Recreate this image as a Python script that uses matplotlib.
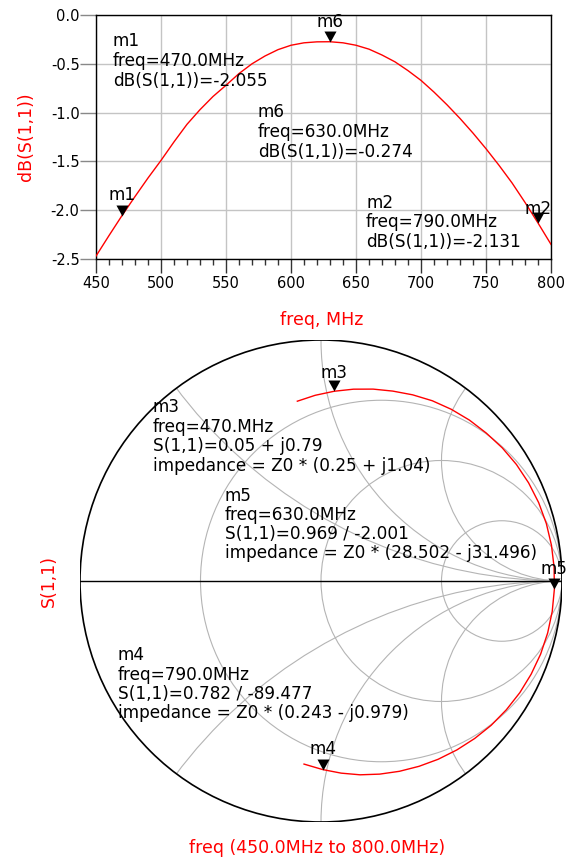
import numpy as np
import matplotlib
matplotlib.use("Agg")
import matplotlib.pyplot as plt
from matplotlib.path import Path
from matplotlib.patches import Circle

plt.rcParams["font.family"] = ["DejaVu Sans"]

# S(1,1) sweep (dB and phase in degrees)
freq_mhz = [450, 460, 470, 480, 490, 500, 510, 520, 530, 540, 550, 560,
            570, 580, 590, 600, 610, 620, 630, 640, 650, 660, 670, 680,
            690, 700, 710, 720, 730, 740, 750, 760, 770, 780, 790, 800]
s11_db = [-2.47, -2.26, -2.055, -1.86, -1.67, -1.49, -1.30, -1.12, -0.97,
          -0.835, -0.72, -0.60, -0.50, -0.42, -0.355, -0.31, -0.285, -0.275,
          -0.274, -0.285, -0.31, -0.35, -0.41, -0.48, -0.57, -0.67, -0.79,
          -0.92, -1.06, -1.21, -1.37, -1.54, -1.72, -1.92, -2.131, -2.35]
s11_phase_deg = [97.5, 91.8, 86.0, 80.4, 74.8, 69.3, 63.8, 58.3, 52.8, 47.3,
                 41.8, 36.3, 30.8, 25.3, 19.8, 14.3, 8.8, 3.4, -2.0, -7.5,
                 -12.9, -18.4, -23.9, -29.3, -34.8, -40.3, -45.7, -51.2,
                 -56.7, -62.1, -67.6, -73.1, -78.6, -84.0, -89.5, -95.3]

x_ticks = [450, 500, 550, 600, 650, 700, 750, 800]
y_ticks = [0.0, -0.5, -1.0, -1.5, -2.0, -2.5]
y_tick_labels = ["0.0", "-0.5", "-1.0", "-1.5", "-2.0", "-2.5"]

db_marker_names = ["m1", "m6", "m2"]
db_marker_freqs = [470, 630, 790]
db_marker_texts = [
    ["m1", "freq=470.0MHz", "dB(S(1,1))=-2.055"],
    ["m6", "freq=630.0MHz", "dB(S(1,1))=-0.274"],
    ["m2", "freq=790.0MHz", "dB(S(1,1))=-2.131"],
]

smith_marker_names = ["m3", "m5", "m4"]
smith_marker_freqs = [470, 630, 790]
smith_marker_texts = [
    ["m3", "freq=470.MHz", "S(1,1)=0.05 + j0.79",
     "impedance = Z0 * (0.25 + j1.04)"],
    ["m5", "freq=630.0MHz", "S(1,1)=0.969 / -2.001",
     "impedance = Z0 * (28.502 - j31.496)"],
    ["m4", "freq=790.0MHz", "S(1,1)=0.782 / -89.477",
     "impedance = Z0 * (0.243 - j0.979)"],
]

r_grid = [1 / 3, 1.0, 3.0]
x_grid = [0.5, 1.0, 2.0, -0.5, -1.0, -2.0]

# layout in pixels
W, H = 574, 863
RED = "#ff0000"
GRID = "#c4c4c4"
TXT = 12.2


def fx(x):
    return x / W


def fy(y):
    return 1 - y / H


def block(lines, x, y0, step=19.8):
    for i, s in enumerate(lines):
        fig.text(fx(x), fy(y0 + i * step), s, fontsize=TXT, va="baseline",
                 ha="left", color="black")


tri = Path([(-0.55, 1.0), (0.55, 1.0), (0.0, 0.0), (-0.55, 1.0)],
           [Path.MOVETO, Path.LINETO, Path.LINETO, Path.CLOSEPOLY])

fig = plt.figure(figsize=(W / 100, H / 100), dpi=100, facecolor="white")

# ---- dB(S(1,1)) vs freq
ax1 = fig.add_axes([fx(96), fy(259), (551 - 96) / W, (259 - 15) / H])
ax1.plot(freq_mhz, s11_db, color=RED, lw=1.0, zorder=3)
ax1.set_xlim(450, 800)
ax1.set_ylim(-2.5, 0.0)
ax1.set_xticks(x_ticks)
ax1.set_xticklabels([str(v) for v in x_ticks])
ax1.set_xticks(range(450, 801, 10), minor=True)
ax1.set_yticks(y_ticks)
ax1.set_yticklabels(y_tick_labels)
ax1.grid(True, which="major", color=GRID, lw=1.0)
ax1.tick_params(axis="x", which="major", direction="out", length=10, width=1,
                pad=2.2, labelsize=10.5, color="#333333")
ax1.tick_params(axis="x", which="minor", direction="out", length=4.3,
                width=1, color="#333333")
ax1.tick_params(axis="y", which="major", direction="out", length=11.5,
                width=1, pad=0.3, labelsize=10.5, color="#888888")
for sp in ax1.spines.values():
    sp.set_color("black")
    sp.set_linewidth(1.0)

db_label_offsets = [11.2, 10.8, 6.5]
for name, f, off in zip(db_marker_names, db_marker_freqs, db_label_offsets):
    v = s11_db[freq_mhz.index(f)]
    ax1.plot([f], [v], marker=tri, ms=15.8, color="black", mew=0,
             ls="none", zorder=5, clip_on=False)
    ax1.annotate(name, xy=(f, v), xytext=(0, off), textcoords="offset points",
                 ha="center", va="baseline", fontsize=TXT, zorder=6,
                 annotation_clip=False)

block(db_marker_texts[0], 113, 45.7, 20)
block(db_marker_texts[1], 257.7, 116.7, 20)
block(db_marker_texts[2], 366, 207.5, 19.7)

fig.text(fx(26), fy(137), "dB(S(1,1))", rotation=90, color=RED,
         fontsize=12.5, ha="center", va="center")
fig.text(fx(322), fy(320), "freq, MHz", color=RED, fontsize=12.5,
         ha="center", va="center")

# ---- Smith chart
cx, cy, rad = 321, 581, 241
ax2 = fig.add_axes([fx(cx - rad), fy(cy + rad), 2 * rad / W, 2 * rad / H])
ax2.set_xlim(-1, 1)
ax2.set_ylim(-1, 1)
ax2.axis("off")

edge = Circle((0, 0), 1.0, fill=False, ec="black", lw=1.2, zorder=4)
ax2.add_patch(edge)
for r in r_grid:
    c = Circle((r / (1 + r), 0), 1 / (1 + r), fill=False, ec="#b4b4b4",
               lw=0.8, zorder=1)
    ax2.add_patch(c)
    c.set_clip_path(edge)
for xv in x_grid:
    c = Circle((1.0, 1 / xv), 1 / abs(xv), fill=False, ec="#b4b4b4",
               lw=0.8, zorder=1)
    ax2.add_patch(c)
    c.set_clip_path(edge)
ax2.plot([-1, 1], [0, 0], color="black", lw=1.0, zorder=2)

mag = 10 ** (np.array(s11_db) / 20)
gam = mag * np.exp(1j * np.deg2rad(s11_phase_deg))
ax2.plot(gam.real, gam.imag, color=RED, lw=1.0, zorder=3)

smith_label_offsets = [9.8, 11.0, 11.2]
for name, f, off in zip(smith_marker_names, smith_marker_freqs,
                        smith_label_offsets):
    g = gam[freq_mhz.index(f)]
    ax2.plot([g.real], [g.imag], marker=tri, ms=15.8, color="black", mew=0,
             ls="none", zorder=5, clip_on=False)
    ax2.annotate(name, xy=(g.real, g.imag), xytext=(0, off),
                 textcoords="offset points", ha="center", va="baseline",
                 fontsize=TXT, zorder=6, annotation_clip=False)

block(smith_marker_texts[0], 153, 411.9, 19.6)
block(smith_marker_texts[1], 224.8, 500.8, 19.2)
block(smith_marker_texts[2], 117.5, 660.2, 19.4)

fig.text(fx(48.5), fy(581), "S(1,1)", rotation=90, color=RED, fontsize=12.5,
         ha="center", va="center")
fig.text(fx(317), fy(853), "freq (450.0MHz to 800.0MHz)", color=RED,
         fontsize=12.5, ha="center", va="baseline")

fig.savefig("out.png", dpi=100, facecolor="white")
